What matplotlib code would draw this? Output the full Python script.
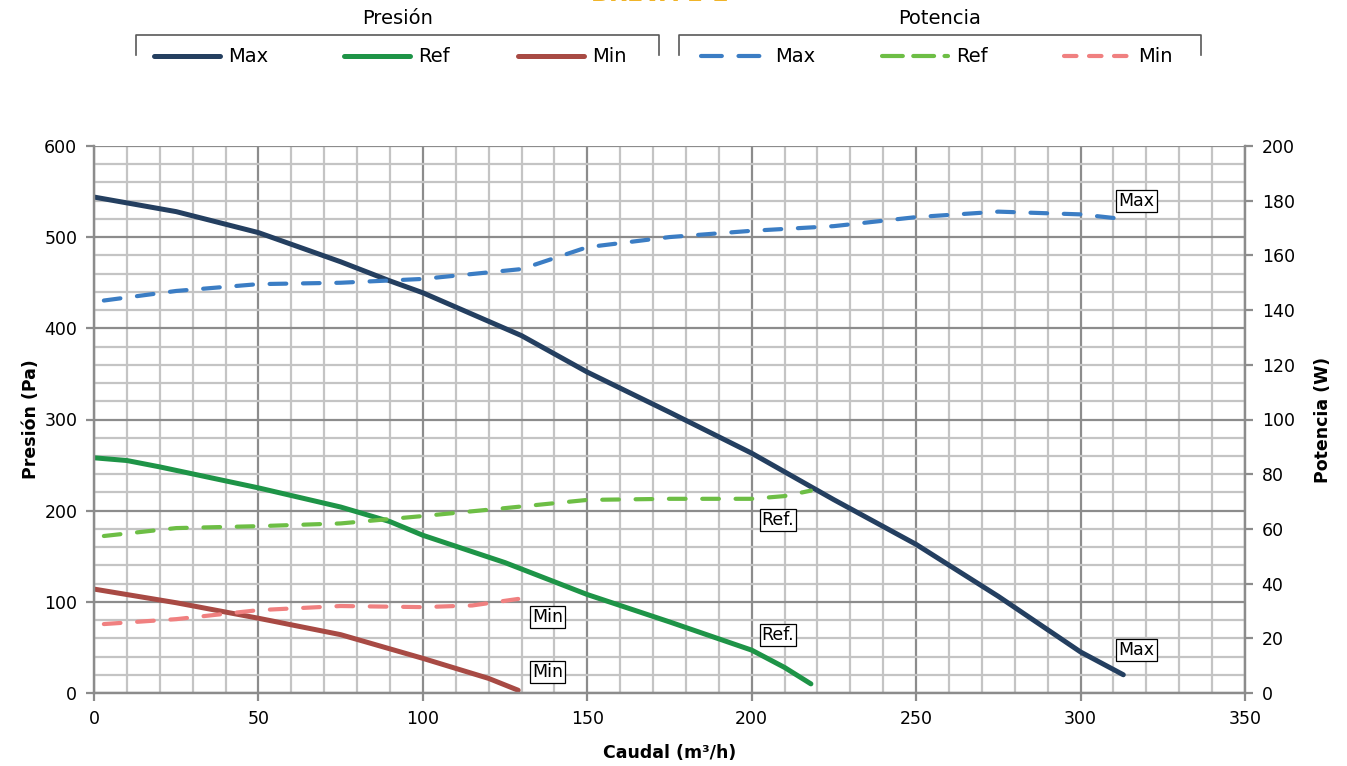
##### IMPORTS #####
import matplotlib
matplotlib.use("Agg")
import matplotlib.pyplot as plt
from matplotlib.lines import Line2D

#####################################################################################
# DATA SECTION
#####################################################################################

# Caudal (m3/h) and Presion (Pa) for each curve
max_q = [0, 25, 50, 75, 90, 100, 130, 150, 175, 200, 225, 250, 275, 300, 313]
max_p = [544, 528, 505, 473, 452, 439, 392, 352, 308, 263, 212, 163, 106, 45, 20]

ref_q = [0, 10, 20, 50, 75, 90, 100, 125, 150, 175, 200, 210, 218]
ref_p = [258, 255, 248, 225, 204, 188, 173, 143, 108, 78, 47, 28, 10]

min_q = [0, 25, 50, 75, 100, 120, 129]
min_p = [114, 99, 82, 64, 38, 16, 3]

# Potencia (W)
pmax_q = [3, 25, 50, 75, 100, 130, 150, 175, 200, 225, 250, 275, 300, 313]
pmax_w = [143.5, 147, 149.5, 150, 151.4, 155, 163, 166.7, 169, 170.7, 174, 176, 175, 173.3]

pref_q = [3, 25, 50, 75, 100, 125, 150, 175, 200, 210, 218]
pref_w = [57.4, 60.3, 61, 62, 64.7, 67.6, 70.6, 71, 71, 72, 74]

pmin_q = [3, 25, 50, 75, 100, 115, 129]
pmin_w = [25.2, 27, 30.3, 31.8, 31.4, 32, 34.4]

# Text boxes on the curves: (text, caudal, presion)
tags = [("Max", 317, 540), ("Max", 317, 47), ("Ref.", 208, 190),
        ("Ref.", 208, 64), ("Min", 138, 83), ("Min", 138, 23)]

x_ticks = [0, 50, 100, 150, 200, 250, 300, 350]
y_ticks = [0, 100, 200, 300, 400, 500, 600]
y2_ticks = [0, 20, 40, 60, 80, 100, 120, 140, 160, 180, 200]

#####################################################################################
# PLOT SECTION
#####################################################################################

plt.rcParams['font.family'] = ['DejaVu Sans']

c_max, c_ref, c_min = "#243F60", "#1E9447", "#A84A44"
c_pmax, c_pref, c_pmin = "#3B7DC4", "#6DBE45", "#F08080"
dash_long = (4, 4)
dash_short = (3, 3)

fig = plt.figure(figsize=(13.47, 7.66), dpi=100)
ax = fig.add_axes([94 / 1347, 73 / 766, 1151 / 1347, 547 / 766])
ax2 = ax.twinx()

# Grid
ax.set_xlim(0, 350)
ax.set_ylim(0, 600)
ax2.set_ylim(0, 200)
ax.set_xticks(x_ticks)
ax.set_yticks(y_ticks)
ax.set_xticks(range(0, 351, 10), minor=True)
ax.set_yticks(range(0, 601, 20), minor=True)
ax.grid(True, which="minor", color="#C4C4C4", lw=1.6)
ax.grid(True, which="major", color="#8C8C8C", lw=1.6)
ax.set_axisbelow(True)
ax.tick_params(which="minor", length=0)
ax.tick_params(which="major", direction="out", length=6, width=1.6,
               color="#8C8C8C", labelsize=12.5, pad=6)
ax2.set_yticks(y2_ticks)
ax2.tick_params(direction="out", length=6, width=1.6, color="#8C8C8C",
                labelsize=12.5, pad=6)
for a in (ax, ax2):
    for s in a.spines.values():
        s.set_color("#8C8C8C")
        s.set_linewidth(1.6)
    a.spines["top"].set_visible(False)

# Curves
kw = dict(solid_capstyle="round", dash_capstyle="round")
ax.plot(max_q, max_p, color=c_max, lw=3.6, **kw)
ax.plot(ref_q, ref_p, color=c_ref, lw=3.6, **kw)
ax.plot(min_q, min_p, color=c_min, lw=3.6, **kw)
ax2.plot(pmax_q, pmax_w, color=c_pmax, lw=3, dashes=dash_long, **kw)
ax2.plot(pref_q, pref_w, color=c_pref, lw=3, dashes=dash_long, **kw)
ax2.plot(pmin_q, pmin_w, color=c_pmin, lw=3, dashes=dash_long, **kw)

for txt, q, p in tags:
    ax.text(q, p, txt, fontsize=12.5, ha="center", va="center", zorder=5,
            bbox=dict(boxstyle="square,pad=0.12", fc="white", ec="black", lw=0.9))

ax.set_xlabel("Caudal (m³/h)", fontsize=12.5, fontweight="bold", labelpad=12)
ax.set_ylabel("Presión (Pa)", fontsize=12.5, fontweight="bold", labelpad=3)
ax2.set_ylabel("Potencia (W)", fontsize=12.5, fontweight="bold", labelpad=14)

# Title, clipped at the top edge as in the source picture
fig.text(0.49, 1 + 6 / 766, "BREVA 1-2", color="#F0B429", fontsize=17,
         fontweight="bold", ha="center", va="center")

# Grouped legends with brackets
W, H = 1347, 766


def legend_group(x0, x1, title, entries, dashed):
    fig.add_artist(Line2D([x0 / W, x0 / W, x1 / W, x1 / W],
                          [1 - 55 / H, 1 - 35 / H, 1 - 35 / H, 1 - 55 / H],
                          color="#595959", lw=1.2))
    fig.text((x0 + x1) / 2 / W, 1 - 19 / H, title, fontsize=14,
             ha="center", va="center")
    for lx, label, col, ds in entries:
        ls = dict(dashes=ds) if dashed else {}
        fig.add_artist(Line2D([lx / W, (lx + 66) / W], [1 - 56 / H, 1 - 56 / H],
                              color=col, lw=3.6 if not dashed else 3,
                              solid_capstyle="round", dash_capstyle="round", **ls))
        fig.text((lx + 74) / W, 1 - 56 / H, label, fontsize=14,
                 ha="left", va="center")


legend_group(136, 659, "Presión",
             [(154, "Max", c_max, None), (344, "Ref", c_ref, None),
              (518, "Min", c_min, None)], False)
legend_group(679, 1201, "Potencia",
             [(701, "Max", c_pmax, (5, 4)), (882, "Ref", c_pref, (5, 2.5)),
              (1064, "Min", c_pmin, dash_short)], True)

fig.savefig("out.png", dpi=100)
